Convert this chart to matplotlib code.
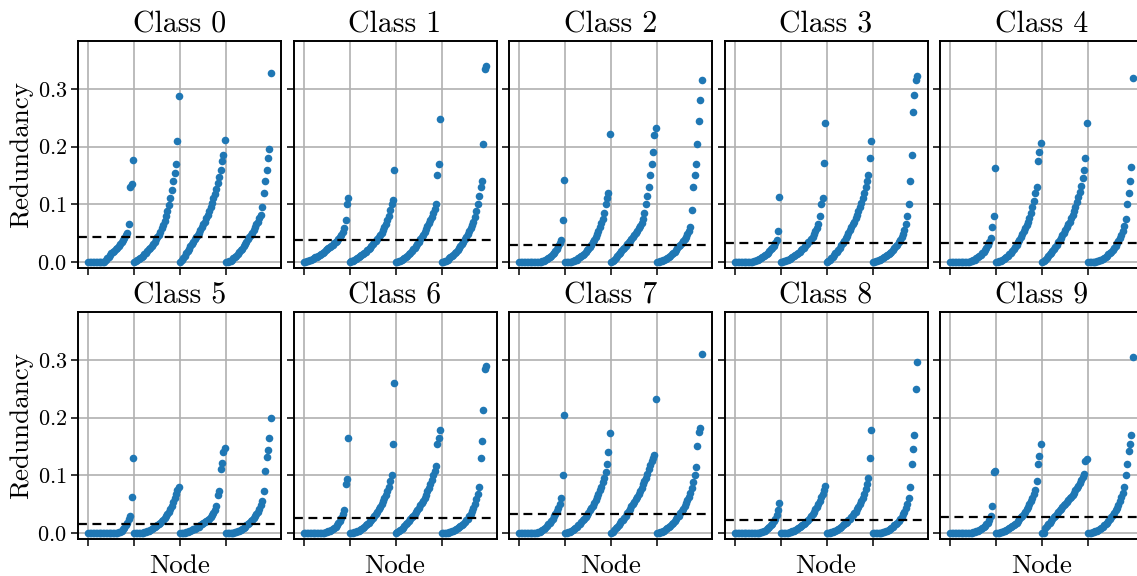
import numpy as np
import matplotlib
matplotlib.use("Agg")
import matplotlib.pyplot as plt

plt.rcParams['font.family'] = ['cmr10', 'DejaVu Serif']
plt.rcParams['mathtext.fontset'] = 'cm'
plt.rcParams['axes.formatter.use_mathtext'] = True

# sorted redundancy per node, four layers per class
class_0 = [
    [0, 0, 0, 0, 0, 0, 0, 0, 0, 0, 0, 0, 0.003, 0.006, 0.009, 0.012, 0.015, 0.017, 0.019, 0.022, 0.025, 0.028, 0.031, 0.034, 0.038, 0.042, 0.046, 0.05, 0.065, 0.13, 0.135, 0.176],
    [0, 0.001, 0.003, 0.005, 0.007, 0.009, 0.011, 0.014, 0.016, 0.019, 0.022, 0.025, 0.028, 0.031, 0.035, 0.039, 0.043, 0.047, 0.052, 0.058, 0.064, 0.071, 0.079, 0.088, 0.098, 0.11, 0.125, 0.14, 0.155, 0.17, 0.21, 0.287],
    [0, 0.003, 0.007, 0.011, 0.015, 0.019, 0.023, 0.027, 0.031, 0.035, 0.039, 0.043, 0.047, 0.051, 0.055, 0.06, 0.065, 0.07, 0.076, 0.082, 0.088, 0.095, 0.102, 0.11, 0.118, 0.127, 0.137, 0.148, 0.16, 0.175, 0.185, 0.212],
    [0, 0, 0.001, 0.002, 0.004, 0.006, 0.008, 0.011, 0.014, 0.017, 0.02, 0.023, 0.027, 0.031, 0.035, 0.039, 0.043, 0.047, 0.051, 0.055, 0.06, 0.065, 0.07, 0.076, 0.082, 0.095, 0.12, 0.14, 0.16, 0.18, 0.195, 0.328],
]
class_1 = [
    [0, 0, 0.001, 0.002, 0.003, 0.004, 0.005, 0.006, 0.008, 0.009, 0.011, 0.012, 0.014, 0.016, 0.018, 0.02, 0.022, 0.024, 0.026, 0.028, 0.03, 0.032, 0.034, 0.037, 0.04, 0.043, 0.047, 0.052, 0.058, 0.072, 0.1, 0.11],
    [0, 0.001, 0.002, 0.003, 0.005, 0.006, 0.008, 0.01, 0.012, 0.014, 0.016, 0.018, 0.02, 0.022, 0.025, 0.028, 0.031, 0.034, 0.037, 0.04, 0.043, 0.047, 0.051, 0.055, 0.06, 0.066, 0.073, 0.08, 0.09, 0.1, 0.108, 0.16],
    [0, 0, 0.001, 0.002, 0.003, 0.005, 0.007, 0.009, 0.011, 0.013, 0.016, 0.019, 0.022, 0.025, 0.028, 0.031, 0.035, 0.039, 0.043, 0.047, 0.052, 0.057, 0.062, 0.067, 0.072, 0.078, 0.085, 0.092, 0.1, 0.15, 0.17, 0.247],
    [0, 0, 0.001, 0.002, 0.004, 0.006, 0.008, 0.01, 0.012, 0.015, 0.018, 0.021, 0.024, 0.027, 0.031, 0.035, 0.039, 0.043, 0.048, 0.053, 0.058, 0.064, 0.07, 0.078, 0.088, 0.1, 0.115, 0.13, 0.14, 0.205, 0.335, 0.34],
]
class_2 = [
    [0, 0, 0, 0, 0, 0, 0, 0, 0, 0, 0, 0, 0, 0, 0, 0, 0.001, 0.002, 0.003, 0.005, 0.007, 0.009, 0.011, 0.013, 0.016, 0.019, 0.023, 0.027, 0.032, 0.038, 0.072, 0.142],
    [0, 0, 0, 0, 0, 0.001, 0.002, 0.003, 0.004, 0.006, 0.008, 0.01, 0.012, 0.014, 0.017, 0.02, 0.023, 0.026, 0.03, 0.034, 0.038, 0.043, 0.048, 0.054, 0.06, 0.067, 0.075, 0.085, 0.1, 0.11, 0.12, 0.222],
    [0, 0.002, 0.004, 0.007, 0.01, 0.013, 0.016, 0.019, 0.022, 0.025, 0.028, 0.031, 0.034, 0.037, 0.04, 0.043, 0.046, 0.05, 0.054, 0.058, 0.063, 0.068, 0.075, 0.085, 0.1, 0.115, 0.13, 0.15, 0.17, 0.19, 0.22, 0.232],
    [0, 0, 0.001, 0.002, 0.003, 0.004, 0.005, 0.007, 0.009, 0.011, 0.013, 0.015, 0.018, 0.021, 0.024, 0.027, 0.03, 0.033, 0.036, 0.04, 0.044, 0.048, 0.053, 0.06, 0.09, 0.13, 0.15, 0.17, 0.205, 0.245, 0.28, 0.316],
]
class_3 = [
    [0, 0, 0, 0, 0, 0, 0, 0, 0, 0, 0, 0, 0, 0.001, 0.002, 0.003, 0.004, 0.005, 0.006, 0.008, 0.01, 0.012, 0.014, 0.016, 0.019, 0.022, 0.025, 0.028, 0.032, 0.038, 0.053, 0.112],
    [0, 0, 0.001, 0.002, 0.003, 0.004, 0.005, 0.006, 0.008, 0.01, 0.012, 0.014, 0.016, 0.018, 0.02, 0.022, 0.025, 0.028, 0.031, 0.034, 0.037, 0.04, 0.044, 0.048, 0.053, 0.058, 0.065, 0.08, 0.1, 0.11, 0.172, 0.24],
    [0, 0.002, 0.004, 0.006, 0.009, 0.012, 0.015, 0.018, 0.021, 0.025, 0.029, 0.033, 0.037, 0.041, 0.045, 0.05, 0.055, 0.06, 0.065, 0.07, 0.076, 0.082, 0.088, 0.095, 0.102, 0.11, 0.12, 0.13, 0.14, 0.15, 0.18, 0.21],
    [0, 0, 0.001, 0.002, 0.003, 0.004, 0.005, 0.006, 0.008, 0.01, 0.012, 0.014, 0.016, 0.018, 0.021, 0.024, 0.027, 0.03, 0.034, 0.038, 0.043, 0.048, 0.055, 0.065, 0.08, 0.1, 0.14, 0.185, 0.26, 0.29, 0.315, 0.322],
]
class_4 = [
    [0, 0, 0, 0, 0, 0, 0, 0, 0, 0, 0, 0, 0, 0, 0.001, 0.002, 0.003, 0.004, 0.006, 0.008, 0.01, 0.012, 0.015, 0.018, 0.021, 0.025, 0.03, 0.035, 0.042, 0.06, 0.08, 0.163],
    [0, 0, 0.001, 0.002, 0.003, 0.005, 0.007, 0.009, 0.011, 0.013, 0.016, 0.019, 0.022, 0.026, 0.03, 0.034, 0.038, 0.043, 0.048, 0.053, 0.058, 0.064, 0.07, 0.077, 0.085, 0.095, 0.105, 0.12, 0.13, 0.175, 0.19, 0.207],
    [0, 0.002, 0.004, 0.007, 0.01, 0.013, 0.016, 0.019, 0.022, 0.026, 0.03, 0.034, 0.038, 0.042, 0.046, 0.05, 0.055, 0.06, 0.065, 0.07, 0.076, 0.082, 0.089, 0.096, 0.104, 0.113, 0.122, 0.132, 0.145, 0.16, 0.18, 0.24],
    [0, 0, 0, 0, 0, 0, 0.001, 0.002, 0.003, 0.004, 0.005, 0.007, 0.009, 0.011, 0.013, 0.015, 0.018, 0.021, 0.024, 0.028, 0.032, 0.036, 0.041, 0.047, 0.054, 0.062, 0.075, 0.1, 0.12, 0.14, 0.165, 0.318],
]
class_5 = [
    [0, 0, 0, 0, 0, 0, 0, 0, 0, 0, 0, 0, 0, 0, 0, 0, 0, 0, 0, 0, 0, 0.001, 0.002, 0.004, 0.006, 0.009, 0.013, 0.018, 0.025, 0.03, 0.062, 0.13],
    [0, 0, 0, 0, 0, 0, 0, 0.001, 0.002, 0.003, 0.004, 0.005, 0.006, 0.008, 0.01, 0.012, 0.014, 0.016, 0.018, 0.02, 0.023, 0.026, 0.029, 0.033, 0.037, 0.042, 0.047, 0.053, 0.06, 0.067, 0.074, 0.08],
    [0, 0, 0, 0, 0.001, 0.002, 0.003, 0.004, 0.005, 0.006, 0.007, 0.008, 0.01, 0.011, 0.013, 0.015, 0.017, 0.019, 0.021, 0.023, 0.025, 0.028, 0.031, 0.035, 0.04, 0.047, 0.065, 0.073, 0.11, 0.122, 0.14, 0.147],
    [0, 0, 0, 0, 0, 0, 0.001, 0.002, 0.003, 0.004, 0.005, 0.007, 0.009, 0.011, 0.013, 0.015, 0.017, 0.02, 0.023, 0.026, 0.029, 0.033, 0.037, 0.042, 0.048, 0.055, 0.072, 0.107, 0.132, 0.143, 0.165, 0.2],
]
class_6 = [
    [0, 0, 0, 0, 0, 0, 0, 0, 0, 0, 0, 0, 0, 0, 0, 0.001, 0.002, 0.003, 0.004, 0.005, 0.007, 0.009, 0.011, 0.014, 0.017, 0.021, 0.026, 0.032, 0.04, 0.085, 0.093, 0.165],
    [0, 0, 0, 0.001, 0.002, 0.003, 0.004, 0.005, 0.007, 0.009, 0.011, 0.013, 0.015, 0.017, 0.02, 0.023, 0.026, 0.029, 0.033, 0.037, 0.041, 0.045, 0.05, 0.055, 0.06, 0.066, 0.073, 0.08, 0.09, 0.1, 0.155, 0.26],
    [0, 0.001, 0.003, 0.005, 0.007, 0.009, 0.012, 0.015, 0.018, 0.021, 0.024, 0.027, 0.03, 0.033, 0.036, 0.04, 0.044, 0.048, 0.052, 0.056, 0.061, 0.066, 0.072, 0.078, 0.085, 0.092, 0.1, 0.108, 0.116, 0.155, 0.165, 0.178],
    [0, 0, 0, 0, 0, 0.001, 0.002, 0.003, 0.004, 0.005, 0.006, 0.008, 0.01, 0.012, 0.014, 0.016, 0.019, 0.022, 0.025, 0.029, 0.033, 0.038, 0.044, 0.05, 0.058, 0.068, 0.08, 0.13, 0.16, 0.213, 0.285, 0.29],
]
class_7 = [
    [0, 0, 0, 0, 0, 0, 0, 0, 0, 0, 0, 0, 0, 0.001, 0.002, 0.003, 0.005, 0.007, 0.009, 0.012, 0.015, 0.018, 0.021, 0.025, 0.029, 0.033, 0.038, 0.044, 0.05, 0.06, 0.1, 0.205],
    [0, 0, 0.001, 0.002, 0.003, 0.005, 0.007, 0.009, 0.011, 0.013, 0.016, 0.019, 0.022, 0.025, 0.028, 0.031, 0.035, 0.039, 0.043, 0.047, 0.052, 0.057, 0.062, 0.068, 0.074, 0.08, 0.088, 0.096, 0.105, 0.12, 0.14, 0.173],
    [0, 0.002, 0.005, 0.008, 0.011, 0.014, 0.017, 0.02, 0.023, 0.026, 0.03, 0.034, 0.038, 0.042, 0.046, 0.05, 0.054, 0.058, 0.063, 0.068, 0.073, 0.078, 0.084, 0.09, 0.096, 0.103, 0.11, 0.117, 0.124, 0.13, 0.135, 0.232],
    [0, 0, 0.001, 0.002, 0.003, 0.004, 0.006, 0.008, 0.01, 0.012, 0.015, 0.018, 0.021, 0.024, 0.027, 0.03, 0.034, 0.038, 0.042, 0.047, 0.052, 0.057, 0.063, 0.07, 0.078, 0.088, 0.1, 0.115, 0.15, 0.175, 0.182, 0.31],
]
class_8 = [
    [0, 0, 0, 0, 0, 0, 0, 0, 0, 0, 0, 0, 0, 0, 0, 0, 0, 0, 0.001, 0.002, 0.003, 0.004, 0.006, 0.008, 0.01, 0.013, 0.016, 0.02, 0.025, 0.031, 0.04, 0.052],
    [0, 0, 0, 0, 0, 0, 0.001, 0.002, 0.003, 0.004, 0.005, 0.006, 0.008, 0.01, 0.012, 0.014, 0.016, 0.018, 0.02, 0.023, 0.026, 0.029, 0.033, 0.037, 0.041, 0.045, 0.05, 0.056, 0.062, 0.068, 0.075, 0.082],
    [0, 0, 0, 0.001, 0.002, 0.003, 0.004, 0.005, 0.007, 0.009, 0.011, 0.013, 0.015, 0.017, 0.019, 0.022, 0.025, 0.028, 0.031, 0.034, 0.037, 0.041, 0.045, 0.05, 0.055, 0.061, 0.068, 0.076, 0.085, 0.095, 0.13, 0.178],
    [0, 0, 0, 0, 0, 0, 0, 0.001, 0.002, 0.003, 0.004, 0.005, 0.007, 0.009, 0.011, 0.013, 0.015, 0.018, 0.021, 0.024, 0.028, 0.032, 0.037, 0.043, 0.05, 0.06, 0.08, 0.12, 0.145, 0.17, 0.25, 0.297],
]
class_9 = [
    [0, 0, 0, 0, 0, 0, 0, 0, 0, 0, 0, 0, 0, 0, 0, 0, 0.001, 0.002, 0.003, 0.004, 0.005, 0.006, 0.008, 0.01, 0.012, 0.015, 0.018, 0.022, 0.03, 0.046, 0.105, 0.108],
    [0, 0, 0, 0.001, 0.002, 0.003, 0.004, 0.005, 0.006, 0.008, 0.01, 0.012, 0.014, 0.016, 0.018, 0.021, 0.024, 0.027, 0.03, 0.033, 0.037, 0.041, 0.045, 0.05, 0.055, 0.06, 0.067, 0.075, 0.09, 0.12, 0.133, 0.155],
    [0, 0, 0.008, 0.012, 0.015, 0.018, 0.021, 0.024, 0.027, 0.03, 0.033, 0.036, 0.039, 0.042, 0.045, 0.048, 0.051, 0.054, 0.057, 0.06, 0.063, 0.066, 0.07, 0.074, 0.078, 0.082, 0.087, 0.092, 0.097, 0.103, 0.125, 0.128],
    [0, 0, 0, 0.001, 0.002, 0.003, 0.004, 0.005, 0.007, 0.009, 0.011, 0.013, 0.015, 0.018, 0.021, 0.024, 0.027, 0.031, 0.035, 0.039, 0.044, 0.049, 0.055, 0.062, 0.07, 0.08, 0.1, 0.12, 0.142, 0.155, 0.17, 0.305],
]

classes = [class_0, class_1, class_2, class_3, class_4,
           class_5, class_6, class_7, class_8, class_9]
thresholds = [0.043, 0.038, 0.030, 0.032, 0.032, 0.015, 0.026, 0.033, 0.023, 0.027]

W, H = 1137, 576
fig = plt.figure(figsize=(W / 100, H / 100), dpi=100)

col_left = [78, 293.5, 509, 724.5, 940]
row_top = [41, 312]
ax_w, ax_h = 203, 227

for k, layers in enumerate(classes):
    r, c = divmod(k, 5)
    ax = fig.add_axes([col_left[c] / W, 1 - (row_top[r] + ax_h) / H, ax_w / W, ax_h / H])
    n = len(layers[0])
    for g, vals in enumerate(layers):
        x = g * n + np.arange(len(vals))
        ax.scatter(x, vals, s=30, color='#1f77b4', zorder=3, linewidths=0)
    ax.axhline(thresholds[k], color='black', ls='--', lw=1.6, dashes=(4, 2.5), zorder=4)
    ax.set_xticks([g * n for g in range(4)])
    ax.set_xticklabels([])
    ax.set_yticks([0, 0.1, 0.2, 0.3])
    ax.set_xlim(-7.3, 4 * n + 6.1)
    ax.set_ylim(-0.0105, 0.383)
    ax.grid(True, color='#b0b0b0', lw=1.2, zorder=0)
    ax.set_axisbelow(True)
    for sp in ax.spines.values():
        sp.set_linewidth(1.4)
    ax.tick_params(width=1.1, length=5, labelsize=16, pad=3)
    ax.set_title(f'Class {k}', fontsize=21.5, pad=6)
    if c == 0:
        ax.set_ylabel('Redundancy', fontsize=19.5, labelpad=3)
    else:
        ax.set_yticklabels([])
    if r == 1:
        ax.set_xlabel('Node', fontsize=19.5, labelpad=3)

fig.savefig('out.png', dpi=100)
